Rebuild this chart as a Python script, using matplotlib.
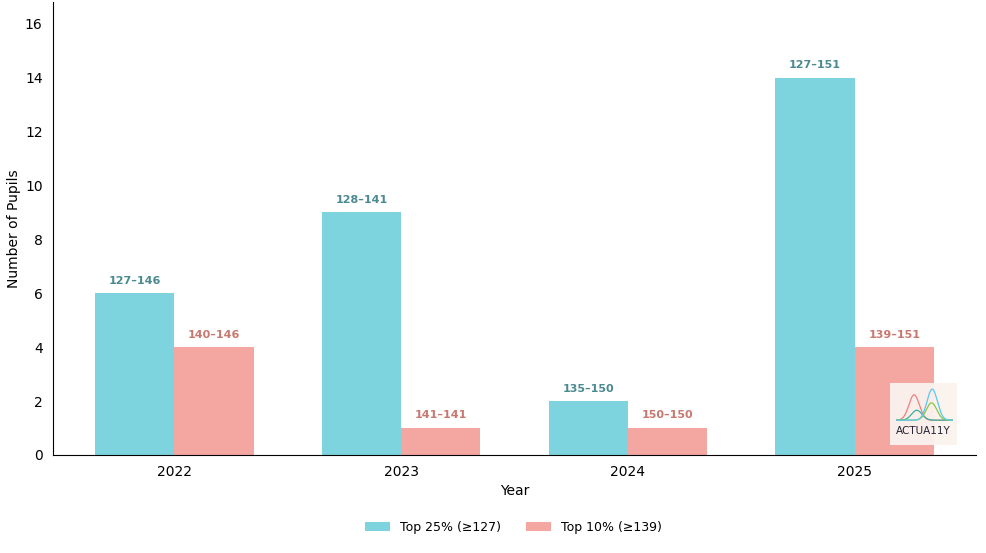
import numpy as np
import matplotlib
matplotlib.use("Agg")
from matplotlib import pyplot as plt

years = ["2022", "2023", "2024", "2025"]
top25 = [6, 9, 2, 14]
top10 = [4, 1, 1, 4]
top25_ranges = ["127–146", "128–141", "135–150", "127–151"]
top10_ranges = ["140–146", "141–141", "150–150", "139–151"]

c25 = "#7DD3DE"
c10 = "#F4A6A0"
c25_txt = "#4A8A90"
c10_txt = "#C77870"

fig = plt.figure(figsize=(9.87, 5.53), dpi=100)
ax = fig.add_axes([53 / 987, 1 - 455 / 553, (976 - 53) / 987, (455 - 2) / 553])

x = np.arange(len(years))
w = 0.35
b1 = ax.bar(x - w / 2, top25, w, color=c25, label="Top 25% (≥127)")
b2 = ax.bar(x + w / 2, top10, w, color=c10, label="Top 10% (≥139)")

for bar, txt in zip(b1, top25_ranges):
    ax.text(bar.get_x() + bar.get_width() / 2, bar.get_height() + 0.28, txt,
            ha="center", va="bottom", fontsize=8, fontweight="bold", color=c25_txt)
for bar, txt in zip(b2, top10_ranges):
    ax.text(bar.get_x() + bar.get_width() / 2, bar.get_height() + 0.28, txt,
            ha="center", va="bottom", fontsize=8, fontweight="bold", color=c10_txt)

ax.set_xticks(x)
ax.set_xticklabels(years)
ax.set_ylim(0, max(top25) * 1.2)
ax.set_yticks(range(0, 17, 2))
ax.tick_params(length=0, labelsize=10, pad=7.5)
ax.set_xlabel("Year", fontsize=10, labelpad=3.5)
ax.set_ylabel("Number of Pupils", fontsize=10, labelpad=3)
for s in ["top", "right"]:
    ax.spines[s].set_visible(False)

fig.legend(loc="center", ncol=2, frameon=False, fontsize=9,
           bbox_to_anchor=(0.52, 1 - 527 / 553))

# logo
lax = fig.add_axes([890 / 987, 1 - 445 / 553, 67 / 987, 62 / 553])
lax.set_facecolor("#FAF3EE")
lax.patch.set_alpha(0.95)
t = np.linspace(0.1, 0.93, 200)
def bump(c, s, h):
    return 0.40 + h * np.exp(-((t - c) / s) ** 2)
lax.plot(t, bump(0.36, 0.11, 0.41), color="#F08080", lw=0.9)
lax.plot(t, bump(0.40, 0.11, 0.16), color="#3BB0A0", lw=0.9)
lax.plot(t, bump(0.62, 0.11, 0.28), color="#8CC63F", lw=0.9)
lax.plot(t, bump(0.63, 0.11, 0.50), color="#5BC8F0", lw=0.9)
lax.set_xlim(0, 1)
lax.set_ylim(0, 1)
lax.text(0.5, 0.23, "ACTUA11Y", ha="center", va="center", fontsize=7.5, color="#222233")
lax.set_xticks([])
lax.set_yticks([])
for s in lax.spines.values():
    s.set_visible(False)

fig.savefig("out.png", dpi=100)
